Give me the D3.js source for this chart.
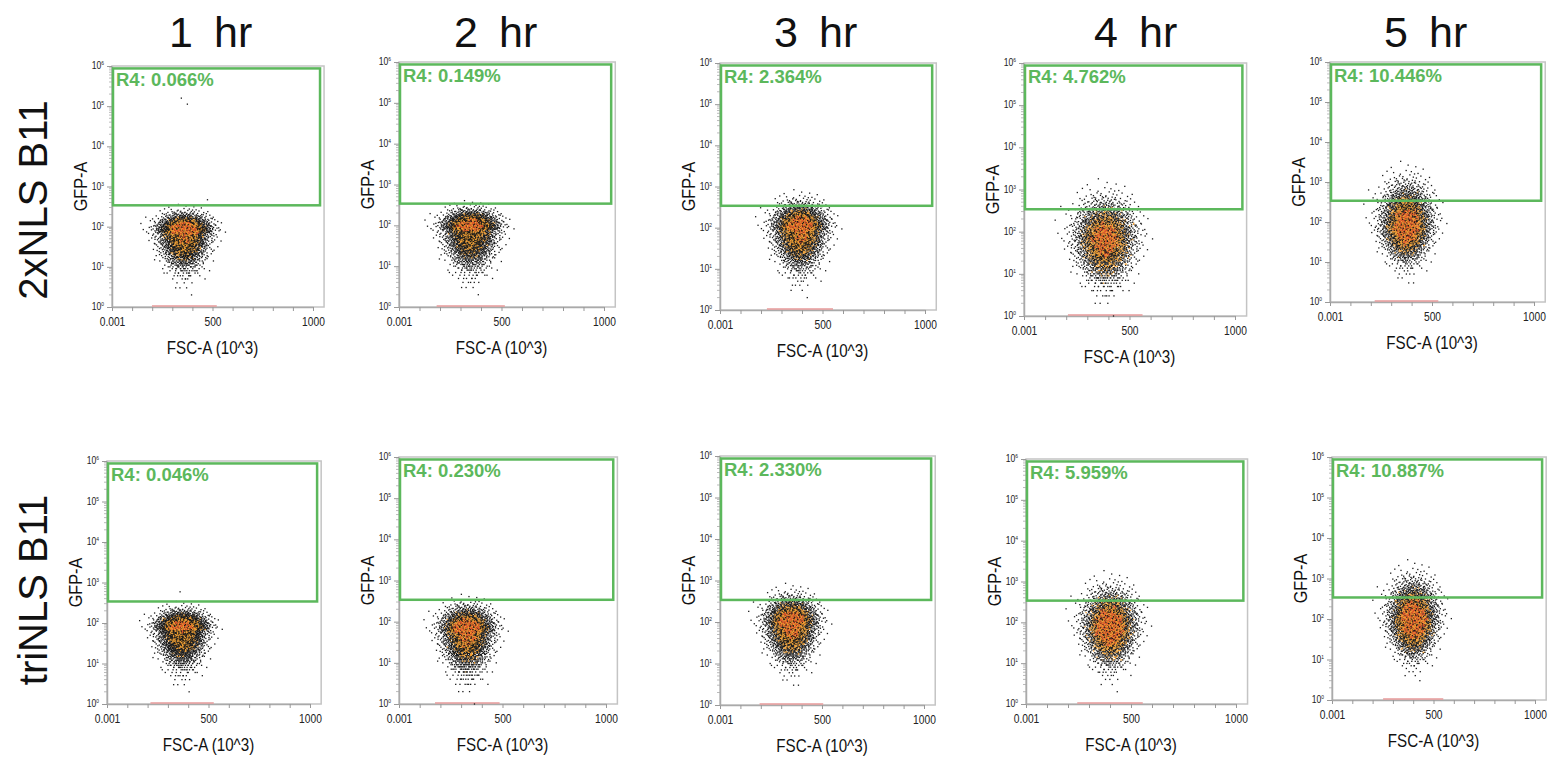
<!DOCTYPE html>
<html><head><meta charset="utf-8">
<script src="https://cdn.jsdelivr.net/npm/d3@7"></script>
<style>body{margin:0;background:#fff} svg{display:block}</style>
</head><body>
<svg id="chart" width="1550" height="760"></svg>
<script>
// ---------------- data ----------------
const hours = ["1", "2", "3", "4", "5"];
const constructs = ["2xNLS B11", "triNLS B11"];
// % of events inside gate R4, per construct (rows) and hour (columns)
const gatePct2xNLS  = [0.066, 0.149, 2.364, 4.762, 10.446];
const gatePctTriNLS = [0.046, 0.230, 2.330, 5.959, 10.887];
// centre of the FSC-A population (x 10^3)
const fscCenter2xNLS  = [360, 350, 390, 385, 375];
const fscCenterTriNLS = [370, 330, 350, 400, 400];
// spread (sd) of the FSC-A population
const fscSpread2xNLS  = [62, 64, 62, 68, 60];
const fscSpreadTriNLS = [60, 60, 60, 60, 57];
// log10 GFP-A of the population core
const gfpCore2xNLS  = [1.85, 1.90, 1.95, 1.80, 1.93];
const gfpCoreTriNLS = [1.83, 1.75, 1.93, 1.88, 1.98];
// spread of the lower (dim) tail, log10 units
const gfpLowSpread2xNLS  = [0.42, 0.45, 0.45, 0.46, 0.42];
const gfpLowSpreadTriNLS = [0.42, 0.45, 0.42, 0.42, 0.42];
// single events that sit apart from the population [FSC-A, log10 GFP-A]
const outliers2xNLS  = [[[345, 5.2], [375, 5.05], [475, 2.67]], [], [], [], []];
const outliersTriNLS = [[[360, 2.77]], [], [], [], []];
// gate R4 limits
const gateGfp = [340, 870000];
const gateFsc = [0, 1035];
// axes
const xTickValues = [0, 100, 200, 300, 400, 500, 600, 700, 800, 900, 1000];
const xTickLabels = ["0.001", "", "", "", "", "500", "", "", "", "", "1000"];
const yDecades = [0, 1, 2, 3, 4, 5, 6];
const eventsPerPanel = 3000;

// ---------------- layout (pixel boxes of the pasted panels) ----------------
const panelBoxes = [
  [{x0:112,x1:313,top:66,bottom:307},{x0:399,x1:604,top:62,bottom:307},{x0:720,x1:925,top:63,bottom:310},{x0:1024,x1:1235,top:63,bottom:316},{x0:1330,x1:1534,top:62,bottom:302}],
  [{x0:107,x1:310,top:461,bottom:704},{x0:399,x1:606,top:457,bottom:704},{x0:720,x1:924,top:456,bottom:705},{x0:1026,x1:1236,top:459,bottom:704},{x0:1332,x1:1535,top:457,bottom:700}]
];
const colTitleX = [215, 500, 820, 1140, 1430];
const rowLabelY = [200, 590];

const GREEN = "#5cb85c";
const FONT = "'Liberation Sans',Arial,sans-serif";
const NARROW = 0.82;   // horizontal squeeze of the condensed axis font

// ---------------- helpers ----------------
function halton(i, b){ let f=1, r=0; while(i>0){ f/=b; r+=f*(i%b); i=Math.floor(i/b);} return r; }
function invNorm(p){
  const a=[-3.969683028665376e+01,2.209460984245205e+02,-2.759285104469687e+02,1.383577518672690e+02,-3.066479806614716e+01,2.506628277459239e+00];
  const b=[-5.447609879822406e+01,1.615858368580409e+02,-1.556989798598866e+02,6.680131188771972e+01,-1.328068155288572e+01];
  const c=[-7.784894002430293e-03,-3.223964580411365e-01,-2.400758277161838e+00,-2.549732539343734e+00,4.374664141464968e+00,2.938163982698783e+00];
  const d=[7.784695709041462e-03,3.224671290700398e-01,2.445134137142996e+00,3.754408661907416e+00];
  const pl=0.02425, ph=1-pl; let q,r;
  if(p<pl){q=Math.sqrt(-2*Math.log(p));return (((((c[0]*q+c[1])*q+c[2])*q+c[3])*q+c[4])*q+c[5])/((((d[0]*q+d[1])*q+d[2])*q+d[3])*q+1);}
  if(p>ph){q=Math.sqrt(-2*Math.log(1-p));return -(((((c[0]*q+c[1])*q+c[2])*q+c[3])*q+c[4])*q+c[5])/((((d[0]*q+d[1])*q+d[2])*q+d[3])*q+1);}
  q=p-0.5;r=q*q;return (((((a[0]*r+a[1])*r+a[2])*r+a[3])*r+a[4])*r+a[5])*q/(((((b[0]*r+b[1])*r+b[2])*r+b[3])*r+b[4])*r+1);
}

const rows = [
  {pct:gatePct2xNLS, fc:fscCenter2xNLS, fs:fscSpread2xNLS, gc:gfpCore2xNLS, gl:gfpLowSpread2xNLS, out:outliers2xNLS},
  {pct:gatePctTriNLS, fc:fscCenterTriNLS, fs:fscSpreadTriNLS, gc:gfpCoreTriNLS, gl:gfpLowSpreadTriNLS, out:outliersTriNLS}
];

const svg = d3.select("#chart");

// column titles: number and unit set apart as in the reference
const ct = svg.selectAll("g.coltitle").data(hours).join("g")
  .attr("class","coltitle").attr("transform",(d,i)=>`translate(${colTitleX[i]},47)`)
  .style("font-family",FONT).style("font-size","43px").attr("fill","#111");
ct.append("text").attr("x",-22).attr("text-anchor","end").text(d=>d);
ct.append("text").attr("x",-1).attr("text-anchor","start").text("hr");

// row labels
svg.selectAll("text.rowlabel").data(constructs).join("text")
  .attr("class","rowlabel")
  .attr("transform",(d,i)=>`translate(47,${rowLabelY[i]}) rotate(-90)`)
  .attr("text-anchor","middle")
  .style("font-family",FONT).style("font-size","40px").attr("fill","#111")
  .text(d=>d);

rows.forEach((row, r) => {
  hours.forEach((h, c) => {
    const box = panelBoxes[r][c];
    const x = d3.scaleLinear().domain([0,1000]).range([box.x0, box.x1]);
    const y = d3.scaleLog().domain([1,1e6]).range([box.bottom, box.top]);
    const g = svg.append("g");

    // frame
    g.append("rect").attr("x",box.x0).attr("y",box.top)
      .attr("width",x(1055)-box.x0).attr("height",box.bottom-box.top)
      .attr("fill","none").attr("stroke","#c4c4c4").attr("stroke-width",1.5);

    // x axis
    const xa = g.append("g").attr("transform",`translate(0,${box.bottom})`)
      .call(d3.axisBottom(x).tickValues(xTickValues).tickSize(4).tickSizeOuter(0)
        .tickFormat((d,i)=>xTickLabels[i]));
    xa.select(".domain").attr("stroke","#aaa").attr("stroke-width",1.5);
    xa.selectAll(".tick line").attr("stroke","#999");
    xa.selectAll(".tick text").attr("y",0).attr("dy",0)
      .attr("transform",`translate(0,19) scale(${NARROW},1)`)
      .style("font-family",FONT).style("font-size","12.5px").attr("fill","#222");

    // y axis: minor ticks
    const minor = [];
    yDecades.slice(0,-1).forEach(dd => { for(let k=2;k<10;k++) minor.push(k*Math.pow(10,dd)); });
    g.append("g").selectAll("line").data(minor).join("line")
      .attr("x1",box.x0).attr("x2",box.x0-3)
      .attr("y1",d=>y(d)).attr("y2",d=>y(d)).attr("stroke","#aaa").attr("stroke-width",0.8);
    const ya = g.append("g").attr("transform",`translate(${box.x0},0)`)
      .call(d3.axisLeft(y).tickValues(yDecades.map(d=>Math.pow(10,d))).tickSize(5).tickSizeOuter(0).tickFormat(""));
    ya.select(".domain").attr("stroke","#aaa").attr("stroke-width",1.5);
    ya.selectAll(".tick line").attr("stroke","#999");
    const yl = g.append("g").selectAll("text").data(yDecades).join("text")
      .attr("transform",d=>`translate(${box.x0-8},${y(Math.pow(10,d))+3}) scale(${NARROW},1)`)
      .attr("text-anchor","end").style("font-family",FONT).style("font-size","10.5px").attr("fill","#222");
    yl.append("tspan").text("10");
    yl.append("tspan").attr("dy",-4).style("font-size","6px").text(d=>d);

    // axis titles
    g.append("text").attr("transform",`translate(${x(500)},${box.bottom+47}) scale(${NARROW},1)`)
      .attr("text-anchor","middle")
      .style("font-family",FONT).style("font-size","18.5px").attr("fill","#111").text("FSC-A (10^3)");
    g.append("text").attr("transform",`translate(${box.x0-25},${(box.top+box.bottom)/2}) rotate(-90) scale(0.93,1)`)
      .attr("text-anchor","middle").style("font-family",FONT).style("font-size","17.5px").attr("fill","#111").text("GFP-A");

    // events
    const pct = row.pct[c];
    const cy = row.gc[c];
    const sdUp = (Math.log10(gateGfp[0]) - cy) / invNorm(1 - pct/100);
    const sdLow = row.gl[c];
    const cx = row.fc[c], sx = row.fs[c];
    const events = [];
    for (let i=1;i<=eventsPerPanel;i++){
      const zx = invNorm(halton(i,2)), zy = invNorm(halton(i,3));
      const fsc = cx + sx*zx*(zy<0 ? Math.max(0.6, 1+0.1*zy) : 1);
      let gfp = Math.pow(10, cy + (zy>0 ? sdUp : sdLow)*zy);
      if (gfp < 20) gfp = Math.max(1, Math.round(gfp));
      events.push({fsc, gfp, w: halton(i,5)});
    }
    row.out[c].forEach(o => events.push({fsc:o[0], gfp:Math.pow(10,o[1]), w:0.99}));
    events.forEach(e => { e.px = x(e.fsc); e.py = y(e.gfp); });
    const bins = d3.rollup(events, v=>v.length, e=>Math.floor(e.px/3)+","+Math.floor(e.py/3));
    const maxBin = d3.max(bins.values());
    events.forEach(e => {
      const lv = bins.get(Math.floor(e.px/3)+","+Math.floor(e.py/3))/maxBin;
      if (lv > 0.55) e.col = e.w<0.4 ? "#e0542c" : e.w<0.78 ? "#f2a033" : "#1a1a1a";
      else if (lv > 0.32) e.col = e.w<0.45 ? "#f2a033" : "#1a1a1a";
      else if (lv > 0.18) e.col = e.w<0.2 ? "#f2a033" : "#1a1a1a";
      else e.col = "#1a1a1a";
    });
    // bottom pile-up line (events at or below 10^0)
    g.append("line").attr("x1",x(cx-2.6*sx)).attr("x2",x(cx+2.6*sx))
      .attr("y1",box.bottom-1).attr("y2",box.bottom-1).attr("stroke","#e79a9a").attr("stroke-width",1.6);
    g.append("g").selectAll("rect").data(events).join("rect")
      .attr("x",e=>e.px-0.65).attr("y",e=>e.py-0.65).attr("width",1.3).attr("height",1.3)
      .attr("fill",e=>e.col);

    // gate R4
    g.append("rect").attr("x",x(gateFsc[0])+1).attr("y",y(gateGfp[1]))
      .attr("width",x(gateFsc[1])-x(gateFsc[0])-1).attr("height",y(gateGfp[0])-y(gateGfp[1]))
      .attr("fill","none").attr("stroke",GREEN).attr("stroke-width",2.5);
    g.append("text").attr("x",box.x0+4).attr("y",y(gateGfp[1])+17.5)
      .style("font-family",FONT).style("font-weight","bold").style("font-size","18.5px")
      .attr("fill",GREEN).text("R4: "+pct.toFixed(3)+"%");
  });
});
</script>
</body></html>
